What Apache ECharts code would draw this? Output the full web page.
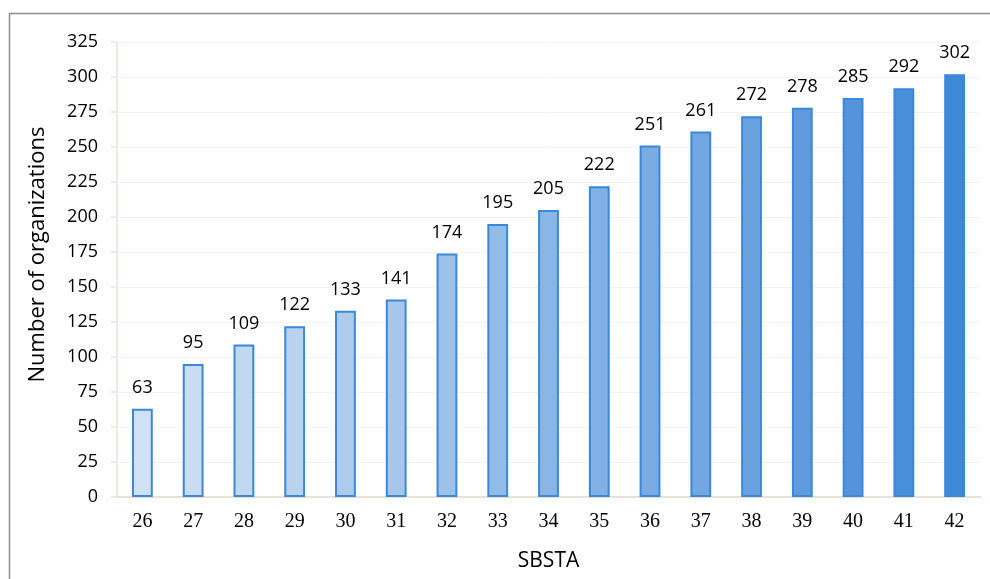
<!DOCTYPE html>
<html>
<head>
<meta charset="utf-8">
<script src="https://cdn.jsdelivr.net/npm/echarts@6/dist/echarts.min.js"></script>
<style>html,body{margin:0;padding:0;background:#fff;overflow:hidden;}#c{width:990px;height:579px;}</style>
</head>
<body>
<div id="c"></div>
<script>
const categories = ['26','27','28','29','30','31','32','33','34','35','36','37','38','39','40','41','42'];
const values = [63, 95, 109, 122, 133, 141, 174, 195, 205, 222, 251, 261, 272, 278, 285, 292, 302];
const barColors = ['#d0e1f4','#c8dcf2','#c1d8f1','#b8d2ef','#aecbed','#a6c6eb','#9dc1e9','#93bbe8','#8ab6e6','#82b0e5','#7aabe3','#72a7e2','#6aa2e0','#5f9bde','#5594dc','#4a8fda','#3f8ad6'];
const yTitle = 'Number of organizations';
const xTitle = 'SBSTA';

const chart = echarts.init(document.getElementById('c'));
chart.setOption({
  animation: false,
  backgroundColor: '#ffffff',
  graphic: [{
    type: 'rect',
    shape: { x: 9.5, y: 13.5, width: 1000, height: 600 },
    style: { fill: 'none', stroke: '#8c8c8c', lineWidth: 1.5 },
    z: 100
  }],
  grid: { left: 117, width: 863, top: 42, height: 455, containLabel: false },
  xAxis: {
    type: 'category',
    data: categories,
    name: xTitle,
    nameLocation: 'middle',
    nameGap: 54,
    nameTextStyle: { fontFamily: 'Open Sans', fontSize: 21, color: '#000' },
    axisLine: { lineStyle: { color: '#e6e2d6', width: 2 } },
    axisTick: { show: false },
    axisLabel: { fontFamily: 'Liberation Serif', fontSize: 20, color: '#000', margin: 15 }
  },
  yAxis: {
    type: 'value',
    min: 0, max: 325, interval: 25,
    name: yTitle,
    nameLocation: 'middle',
    nameGap: 68,
    nameTextStyle: { fontFamily: 'Open Sans', fontSize: 22, color: '#000', padding: [0, 0, 0, 30] },
    axisLine: { show: true, lineStyle: { color: '#eeebe2', width: 2 } },
    axisTick: { show: true, length: 6, lineStyle: { color: '#eeebe2', width: 2 } },
    axisLabel: { fontFamily: 'Open Sans', fontSize: 18, color: '#000', margin: 19 },
    splitLine: { lineStyle: { color: '#f5f3ee', width: 1 } }
  },
  series: [{
    type: 'bar',
    data: values.map((v, i) => ({ value: v, itemStyle: { color: barColors[i] } })),
    barWidth: '41%',
    itemStyle: { borderColor: '#3b87d8', borderWidth: 2 },
    label: { show: true, position: 'top', distance: 12, fontFamily: 'Open Sans', fontSize: 18, color: '#000' }
  }]
});
</script>
</body>
</html>
